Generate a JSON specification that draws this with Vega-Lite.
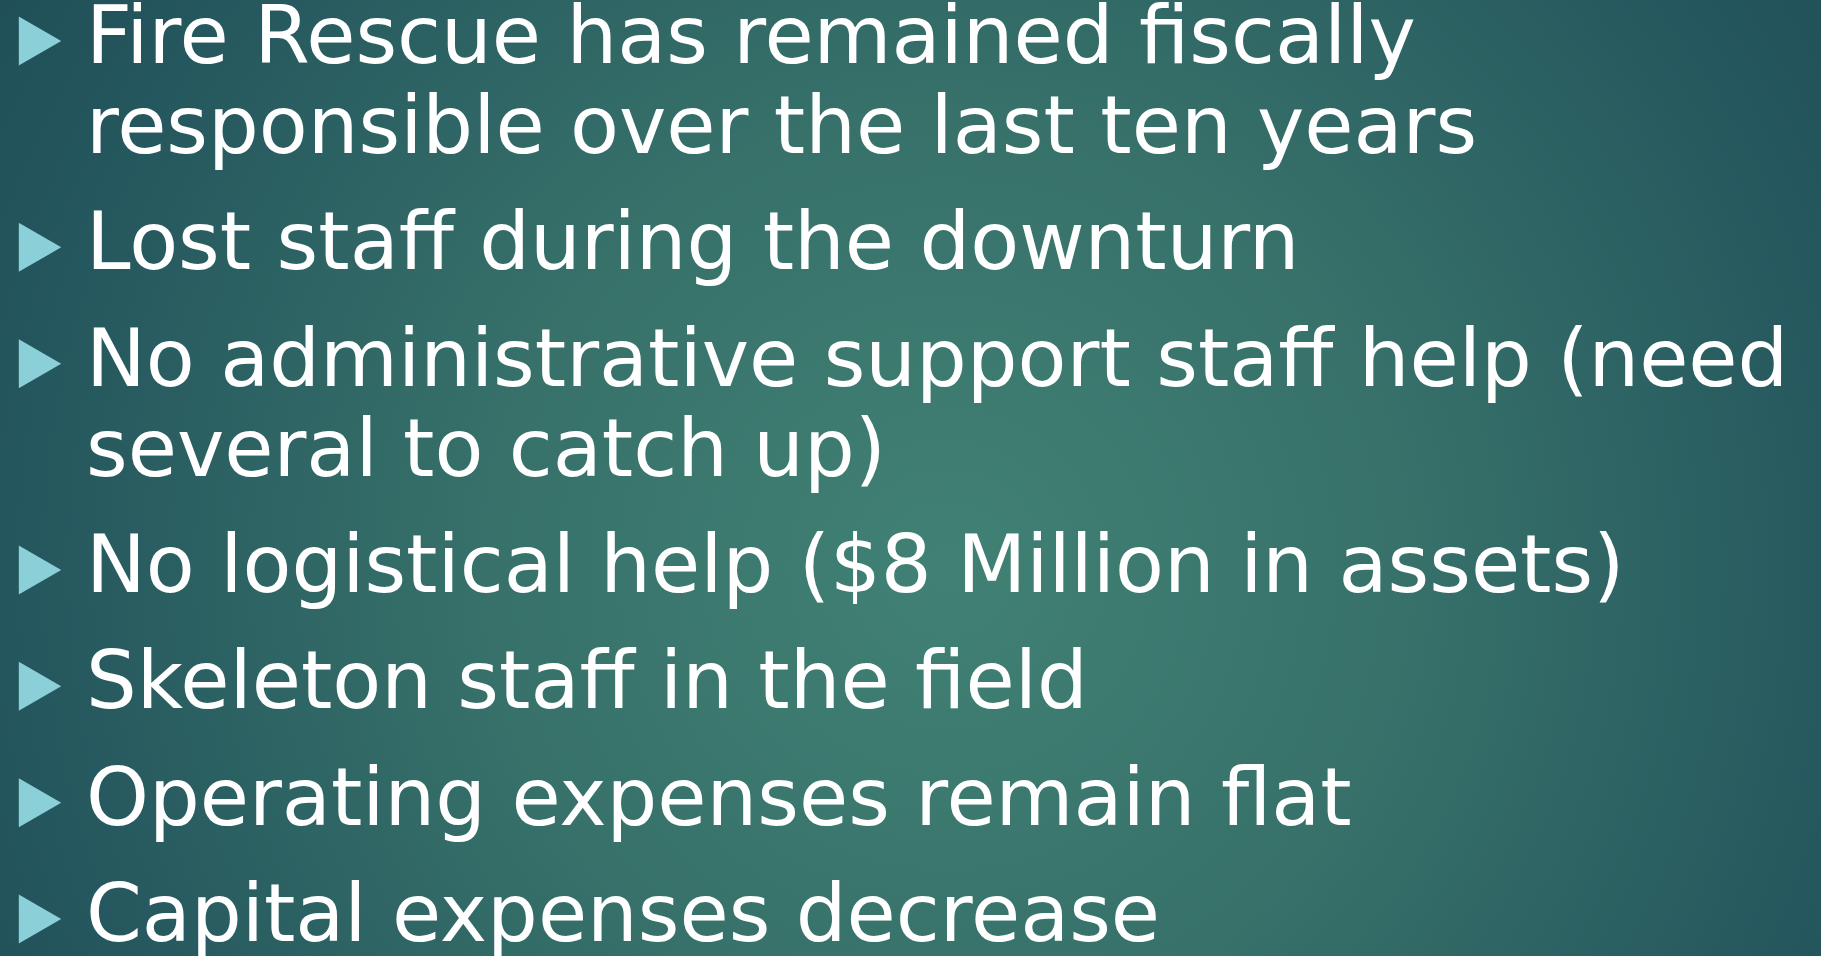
{
  "$schema": "https://vega.github.io/schema/vega-lite/v6.json",
  "width": 1821,
  "height": 956,
  "padding": 0,
  "autosize": {"type": "none"},
  "background": "#1d4a55",
  "config": {
    "view": {
      "stroke": null,
      "fill": {
        "gradient": "radial",
        "x1": 0.52, "y1": 0.55, "r1": 0,
        "x2": 0.52, "y2": 0.55, "r2": 0.72,
        "stops": [
          {"offset": 0, "color": "#418174"},
          {"offset": 0.35, "color": "#37716a"},
          {"offset": 0.7, "color": "#25575e"},
          {"offset": 1, "color": "#1a4650"}
        ]
      }
    }
  },
  "data": {
    "values": [
      {"line": 0, "para": 0, "sub": 0, "text": "Fire Rescue has remained fiscally"},
      {"line": 1, "para": 0, "sub": 1, "text": "responsible over the last ten years"},
      {"line": 2, "para": 1, "sub": 0, "text": "Lost staff during the downturn"},
      {"line": 3, "para": 2, "sub": 0, "text": "No administrative support staff help (need"},
      {"line": 4, "para": 2, "sub": 1, "text": "several to catch up)"},
      {"line": 5, "para": 3, "sub": 0, "text": "No logistical help ($8 Million in assets)"},
      {"line": 6, "para": 4, "sub": 0, "text": "Skeleton staff in the field"},
      {"line": 7, "para": 5, "sub": 0, "text": "Operating expenses remain flat"},
      {"line": 8, "para": 6, "sub": 0, "text": "Capital expenses decrease"}
    ]
  },
  "encoding": {
    "y": {"field": "line", "type": "ordinal", "axis": null,
          "scale": {"type": "point", "domain": [0, 1, 2, 3, 4, 5, 6, 7, 8], "range": [41, 761], "padding": 0}},
    "yOffset": {"field": "para", "type": "quantitative",
          "scale": {"domain": [0, 6], "range": [0, 158], "zero": false, "nice": false}}
  },
  "layer": [
    {
      "transform": [{"filter": "datum.sub == 0"}],
      "mark": {"type": "point", "shape": "triangle-right", "filled": true, "opacity": 1, "size": 2400, "color": "#8bd0d8"},
      "encoding": {
        "x": {"datum": "bullet", "type": "nominal", "axis": null,
              "scale": {"type": "point", "domain": ["bullet", "text"], "range": [40, 86], "padding": 0}}
      }
    },
    {
      "mark": {"type": "text", "align": "left", "baseline": "alphabetic", "dy": 22,
               "font": "DejaVu Sans", "fontSize": 80, "color": "#ffffff"},
      "encoding": {
        "x": {"datum": "text", "type": "nominal", "axis": null},
        "text": {"field": "text"}
      }
    }
  ]
}
